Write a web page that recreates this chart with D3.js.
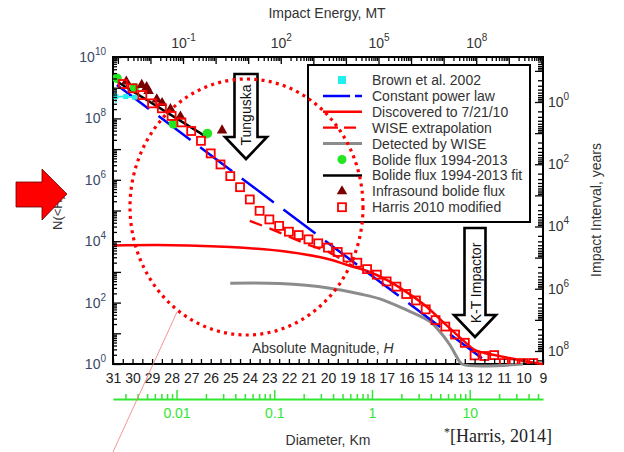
<!DOCTYPE html>
<html>
<head>
<meta charset="utf-8">
<script src="https://cdn.jsdelivr.net/npm/d3@7"></script>
<style>
body { margin: 0; background: #fff; }
svg { font-family: "Liberation Sans", Arial, sans-serif; }
</style>
</head>
<body>
<div id="chart"></div>
<script>
// ---- data (H = absolute magnitude, values are log10 N(<H)) ----
var harrisH = [30.5, 30, 29.5, 29, 28.5, 28, 27.5, 27, 26.5, 26, 25.5, 25, 24.5, 24, 23.5, 23, 22.5, 22,
               21.5, 21, 20.5, 20, 19.5, 19, 18.5, 18, 17.5, 17, 16.5, 16, 15.5, 15, 14.5, 14, 13.5, 13,
               12.5, 12, 11.5, 11, 10.5, 10, 9.5];
var harrisLogN = [9.12, 8.98, 8.76, 8.49, 8.33, 8.08, 7.87, 7.59, 7.27, 6.86, 6.50, 6.12, 5.76, 5.36, 4.99, 4.71, 4.50, 4.31,
                  4.20, 4.06, 3.93, 3.79, 3.65, 3.47, 3.30, 3.09, 2.91, 2.69, 2.52, 2.28, 2.07, 1.78, 1.43, 1.22, 0.96, 0.69,
                  0.28, 0.26, 0.29, 0.03, 0.02, 0.03, 0.03];

var infraH = [30.32, 29.53, 29.28, 29.18, 28.76, 28.49, 28.06, 27.55, 25.42];
var infraLogN = [9.20, 9.09, 9.02, 8.89, 8.62, 8.50, 8.30, 8.06, 7.61];

var bolideH = [30.8, 29.9, 27.91, 26.17];
var bolideLogN = [9.31, 9.0, 7.82, 7.51];

var bolideFitH = [30.78, 26.18];
var bolideFitLogN = [9.195, 7.38];

var brownH = [30.85, 30.35, 29.9];
var brownLogN = [8.71, 8.71, 8.69];

var powerLawH = [30.8, 11.85];
var powerLawLogN = [9.09, 0.06];

var discoveredH = [31, 28, 25, 22, 20, 19, 18, 17, 16, 15, 14, 13, 12.5, 12, 11, 10, 9];
var discoveredLogN = [3.86, 3.87, 3.81, 3.65, 3.42, 3.22, 3.03, 2.74, 2.35, 1.89, 1.30, 0.72, 0.46, 0.36, 0.23, 0.10, 0.0];

var wiseExtH = [24, 23, 22, 21, 20, 19];
var wiseExtLogN = [4.66, 4.42, 4.15, 3.88, 3.66, 3.30];

var wiseDetH = [25.0, 22.46, 19.9, 18.36, 17.34, 16.16, 14.78, 14.27, 13.76, 13.42, 13.14, 10.02];
var wiseDetLogN = [2.63, 2.62, 2.47, 2.28, 2.12, 1.81, 1.38, 1.05, 0.62, 0.24, 0.0, 0.0];

// tick labels
var leftLabelExps = [0, 2, 4, 6, 8, 10];
var rightLabelExps = [0, 2, 4, 6, 8];
var topLabelExps = [-1, 2, 5, 8];
var diamLabels = [0.01, 0.1, 1, 10];

var legendLabels = ['Brown et al. 2002', 'Constant power law', 'Discovered to 7/21/10', 'WISE extrapolation',
                    'Detected by WISE', 'Bolide flux 1994-2013', 'Bolide flux 1994-2013 fit',
                    'Infrasound bolide flux', 'Harris 2010 modified'];

// ---- setup ----
var textColor = '#333';
var green = '#33e633';
var svg = d3.select('#chart').append('svg')
    .attr('width', 624)
    .attr('height', 452);

var pL = 113, pR = 543, pT = 57, pB = 364;

var x = d3.scaleLinear().domain([31, 9]).range([pL, pR]);
var y = d3.scaleLog().domain([1, 1e10]).range([pB, pT]);
var energyAt = function(h) { return Math.pow(10, 15.45 - 0.6 * h); };
var xE = d3.scaleLog().domain([energyAt(31), energyAt(9)]).range([pL, pR]);
var diamAt = function(h) { return Math.pow(10, (17.75 - h) / 5); };
var xD = d3.scaleLog().domain([diamAt(31), diamAt(9)]).range([pL, pR]);
var yT = d3.scaleLog().domain([Math.pow(10, -1.446), Math.pow(10, 8.418)]).range([pT, pB]);

function logTicks(scale, major) {
    var d = scale.domain(), out = [];
    var lo = Math.min(d[0], d[1]), hi = Math.max(d[0], d[1]);
    for (var e = Math.floor(Math.log10(lo)); e <= Math.ceil(Math.log10(hi)); e++) {
        for (var m = (major ? 1 : 2); m <= (major ? 1 : 9); m++) {
            var v = m * Math.pow(10, e);
            if (v >= lo * 0.999 && v <= hi * 1.001) out.push(v);
        }
    }
    return out;
}

function supLabel(sel, exp) {
    sel.text(null);
    sel.append('tspan').text('10');
    sel.append('tspan').attr('dy', -7).attr('font-size', 10).text(exp);
}

function styleAxis(g, color) {
    g.attr('font-size', 14).attr('font-family', null);
    g.select('.domain').remove();
    g.selectAll('.tick line').attr('stroke', color || '#000').attr('stroke-width', 1.3);
    g.selectAll('.tick text').attr('fill', textColor);
}

var pt = function(hs, ns) { return d3.zip(hs, ns); };
var line = d3.line()
    .x(function(d) { return x(d[0]); })
    .y(function(d) { return y(Math.pow(10, d[1])); });
var smooth = d3.line()
    .x(function(d) { return x(d[0]); })
    .y(function(d) { return y(Math.pow(10, d[1])); })
    .curve(d3.curveCatmullRom.alpha(0.5));

// frame
svg.append('rect')
    .attr('x', pL).attr('y', pT)
    .attr('width', pR - pL).attr('height', pB - pT)
    .attr('fill', 'none').attr('stroke', '#000').attr('stroke-width', 2);

svg.append('clipPath').attr('id', 'plot')
    .append('rect').attr('x', pL).attr('y', pT - 2)
    .attr('width', pR - pL).attr('height', pB - pT + 2);

var plot = svg.append('g');
var marks = svg.append('g').attr('clip-path', 'url(#plot)');

// ---- lines ----
plot.append('path')
    .attr('d', smooth(pt(discoveredH, discoveredLogN)))
    .attr('fill', 'none').attr('stroke', '#ff0000').attr('stroke-width', 2.5);

plot.append('path')
    .attr('d', smooth(pt(wiseDetH, wiseDetLogN)))
    .attr('fill', 'none').attr('stroke', '#8c8c8c').attr('stroke-width', 3);

plot.append('path')
    .attr('d', line(pt(wiseExtH, wiseExtLogN)))
    .attr('fill', 'none').attr('stroke', '#ff0000').attr('stroke-width', 2.3)
    .attr('stroke-dasharray', '13,8');

plot.append('path')
    .attr('d', line(pt(powerLawH, powerLawLogN)))
    .attr('fill', 'none').attr('stroke', '#0000ff').attr('stroke-width', 2.5)
    .attr('stroke-dasharray', '40,12');

plot.append('path')
    .attr('d', line(pt(bolideFitH, bolideFitLogN)))
    .attr('fill', 'none').attr('stroke', '#000').attr('stroke-width', 2.5);

// Brown et al. 2002
plot.append('path')
    .attr('d', line(pt(brownH, brownLogN)))
    .attr('fill', 'none').attr('stroke', '#22eeee').attr('stroke-width', 1.8);
plot.append('line')
    .attr('x1', x(brownH[0])).attr('x2', x(brownH[0]))
    .attr('y1', y(Math.pow(10, brownLogN[0] + 0.2))).attr('y2', y(Math.pow(10, brownLogN[0] - 0.2)))
    .attr('stroke', '#22eeee').attr('stroke-width', 1.5);
plot.selectAll('.brown')
    .data(pt(brownH, brownLogN))
    .enter()
    .append('rect')
    .attr('x', function(d) { return x(d[0]) - 2.5; })
    .attr('y', function(d) { return y(Math.pow(10, d[1])) - 2.5; })
    .attr('width', 5).attr('height', 5)
    .attr('fill', '#22eeee');

// bolide flux points
marks.selectAll('.bolide')
    .data(pt(bolideH, bolideLogN))
    .enter()
    .append('circle')
    .attr('cx', function(d) { return x(d[0]); })
    .attr('cy', function(d) { return y(Math.pow(10, d[1])); })
    .attr('r', 4.8)
    .attr('fill', '#22e622');

// infrasound triangles
var tri = d3.symbol().type(d3.symbolTriangle).size(48);
marks.selectAll('.infra')
    .data(pt(infraH, infraLogN))
    .enter()
    .append('path')
    .attr('d', tri)
    .attr('transform', function(d) { return 'translate(' + x(d[0]) + ',' + y(Math.pow(10, d[1])) + ')'; })
    .attr('fill', '#7a0000');

// Harris squares
marks.selectAll('.harris')
    .data(pt(harrisH, harrisLogN))
    .enter()
    .append('rect')
    .attr('x', function(d) { return x(d[0]) - 4; })
    .attr('y', function(d) { return y(Math.pow(10, d[1])) - 4; })
    .attr('width', 8).attr('height', 8)
    .attr('fill', 'none')
    .attr('stroke', '#ff0000')
    .attr('stroke-width', 1.8);

// ---- axes ----
// left
var gl = svg.append('g').attr('transform', 'translate(' + pL + ',0)')
    .call(d3.axisLeft(y).tickValues(logTicks(y, false)).tickSize(-4).tickFormat(''));
styleAxis(gl);
gl = svg.append('g').attr('transform', 'translate(' + pL + ',0)')
    .call(d3.axisLeft(y).tickValues(logTicks(y, true)).tickSize(-8).tickPadding(7).tickFormat(''));
styleAxis(gl);
gl.selectAll('.tick text').attr('fill', '#3a4766').each(function(d) {
    var e = Math.round(Math.log10(d));
    if (leftLabelExps.indexOf(e) >= 0) supLabel(d3.select(this), e);
});

// right
var gr = svg.append('g').attr('transform', 'translate(' + pR + ',0)')
    .call(d3.axisRight(yT).tickValues(logTicks(yT, false)).tickSize(-5).tickFormat(''));
styleAxis(gr);
gr = svg.append('g').attr('transform', 'translate(' + pR + ',0)')
    .call(d3.axisRight(yT).tickValues(logTicks(yT, true)).tickSize(-8).tickPadding(5).tickFormat(''));
styleAxis(gr);
gr.selectAll('.tick text').each(function(d) {
    var e = Math.round(Math.log10(d));
    if (rightLabelExps.indexOf(e) >= 0) supLabel(d3.select(this), e);
});

// top (impact energy)
var gt = svg.append('g').attr('transform', 'translate(0,' + pT + ')')
    .call(d3.axisTop(xE).tickValues(logTicks(xE, false)).tickSize(-4).tickFormat(''));
styleAxis(gt);
gt = svg.append('g').attr('transform', 'translate(0,' + pT + ')')
    .call(d3.axisTop(xE).tickValues(logTicks(xE, true)).tickSize(-7).tickPadding(9).tickFormat(''));
styleAxis(gt);
gt.selectAll('.tick text').each(function(d) {
    var e = Math.round(Math.log10(d));
    if (topLabelExps.indexOf(e) >= 0) supLabel(d3.select(this), e);
});

// bottom (absolute magnitude)
var hTicks = d3.range(9, 31.01, 0.5);
var gb = svg.append('g').attr('transform', 'translate(0,' + pB + ')')
    .call(d3.axisBottom(x).tickValues(hTicks).tickSize(-5).tickPadding(9)
        .tickFormat(function(d) { return d % 1 === 0 ? d : ''; }));
styleAxis(gb);
gb.selectAll('.tick text').attr('fill', '#222');

// diameter axis
var gd = svg.append('g').attr('transform', 'translate(0,399)')
    .call(d3.axisBottom(xD).tickValues(logTicks(xD, false)).tickSize(-5).tickSizeOuter(0).tickFormat(''));
gd.attr('font-family', null);
gd.select('.domain').attr('stroke', green).attr('stroke-width', 2);
gd.selectAll('.tick line').attr('stroke', green).attr('stroke-width', 1.5);
gd = svg.append('g').attr('transform', 'translate(0,399)')
    .call(d3.axisBottom(xD).tickValues(diamLabels).tickSize(-9).tickPadding(9).tickFormat(function(d) { return d; }));
gd.attr('font-size', 14).attr('font-family', null);
gd.select('.domain').remove();
gd.selectAll('.tick line').attr('stroke', green).attr('stroke-width', 1.5);
gd.selectAll('.tick text').attr('fill', green);

// axis titles
svg.append('text').attr('x', 327).attr('y', 18).attr('text-anchor', 'middle')
    .attr('font-size', 14).attr('fill', textColor).text('Impact Energy, MT');
svg.append('text').attr('x', 328).attr('y', 445).attr('text-anchor', 'middle')
    .attr('font-size', 14).attr('fill', textColor).text('Diameter, Km');
svg.append('text').attr('transform', 'translate(601,210) rotate(-90)').attr('text-anchor', 'middle')
    .attr('font-size', 14).attr('fill', textColor).text('Impact Interval, years');
svg.append('text').attr('transform', 'translate(62,230) rotate(-90)').attr('text-anchor', 'start')
    .attr('font-size', 13).attr('fill', textColor).text('N(<H)');

var am = svg.append('text').attr('x', 252).attr('y', 353)
    .attr('font-size', 14).attr('fill', textColor);
am.append('tspan').text('Absolute Magnitude, ');
am.append('tspan').attr('font-style', 'italic').text('H');

var cite = svg.append('text').attr('x', 444).attr('y', 442)
    .attr('font-family', '"Liberation Serif", "Times New Roman", serif')
    .attr('font-size', 18).attr('fill', '#222');
cite.append('tspan').attr('font-size', 12).attr('dy', -6).text('*');
cite.append('tspan').attr('dy', 6).text('[Harris, 2014]');

// ---- legend ----
var lg = svg.append('g');
lg.append('rect').attr('x', 308).attr('y', 65).attr('width', 222).attr('height', 157)
    .attr('fill', '#fff').attr('stroke', '#000').attr('stroke-width', 2);
var rowY = function(i) { return 80 + i * 15.9; };
lg.selectAll('.lt')
    .data(legendLabels)
    .enter()
    .append('text')
    .attr('x', 372)
    .attr('y', function(d, i) { return rowY(i); })
    .attr('dy', '0.36em')
    .attr('font-size', 14)
    .attr('fill', textColor)
    .text(function(d) { return d; });

lg.append('rect').attr('x', 338).attr('y', rowY(0) - 4).attr('width', 8).attr('height', 8).attr('fill', '#22eeee');
var legLine = function(i, color, w, dash) {
    lg.append('line').attr('x1', 323).attr('x2', 362).attr('y1', rowY(i)).attr('y2', rowY(i))
        .attr('stroke', color).attr('stroke-width', w).attr('stroke-dasharray', dash || null);
};
legLine(1, '#0000ff', 2.5, '27,5,7');
legLine(2, '#ff0000', 2.5);
legLine(3, '#ff0000', 2.3, '15,6,12');
legLine(4, '#8c8c8c', 3);
lg.append('circle').attr('cx', 342).attr('cy', rowY(5)).attr('r', 4.5).attr('fill', '#22e622');
legLine(6, '#000', 2.5);
lg.append('path').attr('d', tri).attr('transform', 'translate(342,' + rowY(7) + ')').attr('fill', '#7a0000');
lg.append('rect').attr('x', 338).attr('y', rowY(8) - 4).attr('width', 8).attr('height', 8)
    .attr('fill', 'none').attr('stroke', '#ff0000').attr('stroke-width', 1.8);

// ---- annotations ----
function downArrow(cx, y0, headTop, tip, shaftHalf, headHalf) {
    return 'M' + (cx - shaftHalf) + ',' + y0 + 'H' + (cx + shaftHalf) + 'V' + headTop +
        'H' + (cx + headHalf) + 'L' + cx + ',' + tip + 'L' + (cx - headHalf) + ',' + headTop +
        'H' + (cx - shaftHalf) + 'Z';
}
svg.append('path').attr('d', downArrow(246, 74, 137, 159, 11.5, 21))
    .attr('fill', '#fff').attr('stroke', '#000').attr('stroke-width', 2.6);
svg.append('text').attr('transform', 'translate(251,115) rotate(-90)').attr('text-anchor', 'middle')
    .attr('font-size', 14).attr('fill', '#111').text('Tunguska');

svg.append('path').attr('d', downArrow(475, 228, 315, 337, 10.5, 21))
    .attr('fill', '#fff').attr('stroke', '#000').attr('stroke-width', 2.6);
svg.append('text').attr('transform', 'translate(481,283) rotate(-90)').attr('text-anchor', 'middle')
    .attr('font-size', 14).attr('fill', '#111').text('K-T Impactor');

// dotted ellipse
svg.append('ellipse').attr('cx', 246.5).attr('cy', 207).attr('rx', 116.5).attr('ry', 128)
    .attr('fill', 'none').attr('stroke', '#ff0000').attr('stroke-width', 3.2)
    .attr('stroke-dasharray', '3,4.3');

// thin pointer line
svg.append('line').attr('x1', 113).attr('y1', 452).attr('x2', 177).attr('y2', 312)
    .attr('stroke', '#f07a7a').attr('stroke-width', 0.8);

// big red arrow on the left
svg.append('path')
    .attr('d', 'M16,182H42V169L67,194L42,220V207H16Z')
    .attr('fill', '#ff0000').attr('stroke', '#600').attr('stroke-width', 0.8);
</script>
</body>
</html>
